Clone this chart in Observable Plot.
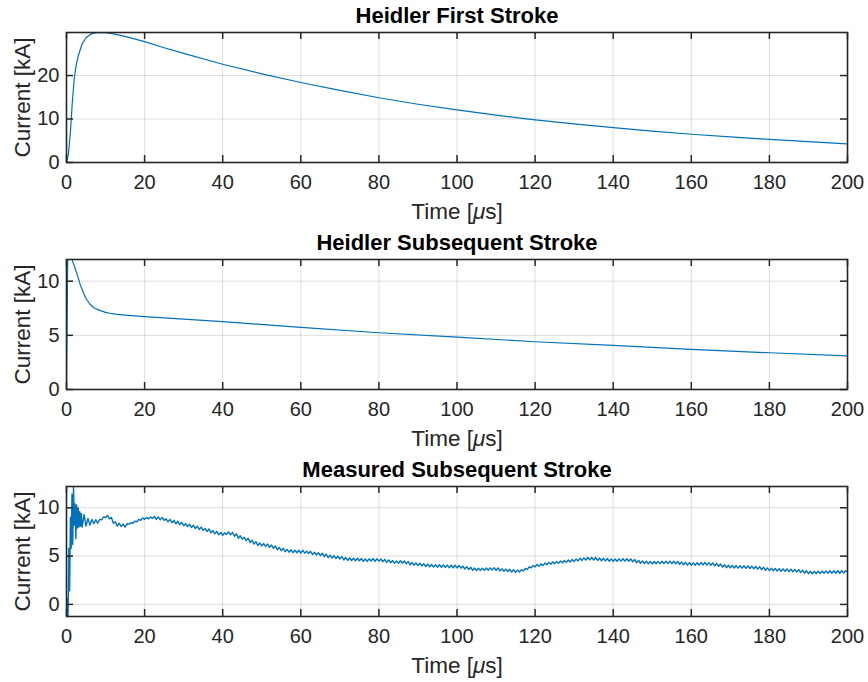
<!DOCTYPE html>
<html><head><meta charset="utf-8">
<script src="https://cdn.jsdelivr.net/npm/d3@7"></script>
<script src="https://cdn.jsdelivr.net/npm/@observablehq/plot@0.6"></script>
<style>body{margin:0;background:#fff} #chart svg{display:block}</style>
</head><body><div id="chart"></div>
<script>
// ---------- data ----------
const xTicks = [0, 20, 40, 60, 80, 100, 120, 140, 160, 180, 200];
const titles = ["Heidler First Stroke", "Heidler Subsequent Stroke", "Measured Subsequent Stroke"];
const xLabel = "Time [μs]";
const yLabel = "Current [kA]";

// Heidler first stroke (time in μs, current in kA)
const firstTime = [0, 0.5, 1, 1.5, 2, 2.5, 3, 4, 5, 6, 7, 8, 9, 10, 12, 15, 20, 25, 30, 40, 50, 60, 70, 80, 90, 100, 110, 120, 130, 140, 150, 160, 170, 180, 190, 200];
const firstCurrent = [0, 2, 7, 14, 19.5, 22.5, 24.5, 27.3, 28.7, 29.4, 29.75, 29.88, 29.9, 29.85, 29.6, 29.0, 27.8, 26.4, 25.1, 22.6, 20.4, 18.4, 16.6, 14.9, 13.4, 12.1, 10.9, 9.8, 8.9, 8.0, 7.2, 6.5, 5.9, 5.3, 4.8, 4.3];
const firstTicks = [0, 10, 20];
const firstDomain = [0, 29.9];

// Heidler subsequent stroke
const subTime = [0, 0.3, 0.6, 1.0, 1.5, 2, 2.7, 3.5, 4.3, 5, 6, 7, 8.5, 10, 11.1, 13, 15, 20, 40, 60, 80, 100, 120, 140, 160, 180, 200];
const subCurrent = [0, 12.1, 12.4, 12.3, 11.9, 11.4, 10.65, 9.7, 8.95, 8.4, 7.87, 7.55, 7.3, 7.12, 7.04, 6.93, 6.86, 6.72, 6.26, 5.74, 5.24, 4.84, 4.41, 4.07, 3.70, 3.39, 3.11];
const subTicks = [0, 5, 10];
const subDomain = [0, 12];

// Measured subsequent stroke: first 4 μs sampled every 0.2 μs, then every 0.5 μs
const measEarlyStep = 0.2;
const measEarly = [-1.2, 0.6, -1.25, 5.8, 1.4, 9.0, 5.8, 11.4, 6.2, 12.2, 8.2, 10.4, 6.8, 10.3, 7.9, 10.0, 8.0, 9.6, 8.1, 9.4];
const measLateStart = 4;
const measLateStep = 0.5;
const measLate = [
  8.0, 9.3, 8.1, 8.9, 8.2, 8.8, 8.35, 8.75, 8.4, 8.8,
  8.75, 9.05, 9.0, 9.2, 8.85, 9.0, 8.4, 8.55, 8.1, 8.4,
  8.05, 8.3, 8.0, 8.35, 8.3, 8.45, 8.4, 8.6, 8.55, 8.8,
  8.7, 8.95, 8.8, 9.0, 8.85, 9.05, 8.9, 9.1, 8.8, 9.05,
  8.75, 9.0, 8.7, 8.85, 8.55, 8.8, 8.45, 8.7, 8.35, 8.6,
  8.25, 8.5, 8.15, 8.35, 8.05, 8.3, 7.95, 8.2, 7.85, 8.1,
  7.75, 8.0, 7.65, 7.85, 7.55, 7.8, 7.4, 7.65, 7.3, 7.55,
  7.2, 7.45, 7.15, 7.4, 7.25, 7.5, 7.2, 7.45, 7.05, 7.3,
  6.85, 7.1, 6.75, 6.95, 6.6, 6.85, 6.4, 6.65, 6.25, 6.5,
  6.1, 6.35, 6.05, 6.3, 6.0, 6.25, 5.9, 6.15, 5.8, 6.05,
  5.65, 5.9, 5.55, 5.8, 5.45, 5.7, 5.4, 5.65, 5.35, 5.6,
  5.35, 5.6, 5.3, 5.6, 5.3, 5.5, 5.25, 5.5, 5.15, 5.4,
  5.1, 5.35, 5.05, 5.3, 4.95, 5.2, 4.85, 5.1, 4.8, 5.05,
  4.75, 5.0, 4.7, 4.95, 4.6, 4.85, 4.55, 4.8, 4.55, 4.78,
  4.52, 4.78, 4.5, 4.75, 4.45, 4.7, 4.45, 4.72, 4.48, 4.75,
  4.46, 4.72, 4.48, 4.7, 4.42, 4.66, 4.35, 4.6, 4.3, 4.55,
  4.25, 4.5, 4.26, 4.52, 4.28, 4.5, 4.2, 4.43, 4.1, 4.35,
  4.05, 4.3, 4.02, 4.27, 3.98, 4.2, 3.92, 4.17, 3.9, 4.13,
  3.86, 4.11, 3.85, 4.1, 3.84, 4.09, 3.82, 4.07, 3.8, 4.05,
  3.8, 4.05, 3.78, 4.03, 3.75, 3.97, 3.66, 3.91, 3.6, 3.85,
  3.52, 3.77, 3.5, 3.75, 3.5, 3.75, 3.52, 3.77, 3.53, 3.78,
  3.55, 3.8, 3.52, 3.77, 3.47, 3.7, 3.42, 3.65, 3.4, 3.63,
  3.35, 3.59, 3.32, 3.55, 3.35, 3.6, 3.46, 3.73, 3.62, 3.89,
  3.78, 4.03, 3.88, 4.13, 3.95, 4.2, 4.02, 4.27, 4.1, 4.35,
  4.15, 4.4, 4.2, 4.45, 4.25, 4.5, 4.3, 4.55, 4.35, 4.6,
  4.4, 4.65, 4.45, 4.7, 4.5, 4.77, 4.55, 4.81, 4.6, 4.85,
  4.62, 4.87, 4.6, 4.85, 4.55, 4.8, 4.52, 4.77, 4.5, 4.75,
  4.46, 4.71, 4.45, 4.7, 4.46, 4.71, 4.48, 4.73, 4.48, 4.73,
  4.47, 4.71, 4.4, 4.65, 4.3, 4.55, 4.26, 4.5, 4.23, 4.48,
  4.2, 4.45, 4.19, 4.44, 4.2, 4.45, 4.22, 4.47, 4.23, 4.48,
  4.23, 4.48, 4.22, 4.47, 4.2, 4.45, 4.15, 4.4, 4.1, 4.35,
  4.07, 4.32, 4.05, 4.3, 4.06, 4.31, 4.08, 4.33, 4.09, 4.34,
  4.07, 4.32, 4.05, 4.3, 4.0, 4.25, 3.93, 4.18, 3.85, 4.1,
  3.8, 4.05, 3.78, 4.03, 3.77, 4.02, 3.75, 4.0, 3.75, 4.0,
  3.73, 3.98, 3.71, 3.96, 3.69, 3.94, 3.65, 3.9, 3.59, 3.84,
  3.53, 3.78, 3.5, 3.75, 3.47, 3.72, 3.45, 3.7, 3.43, 3.68,
  3.42, 3.67, 3.4, 3.65, 3.38, 3.63, 3.35, 3.6, 3.3, 3.55,
  3.23, 3.48, 3.18, 3.43, 3.17, 3.42, 3.18, 3.43, 3.2, 3.45,
  3.22, 3.47, 3.23, 3.48, 3.23, 3.48, 3.23, 3.48, 3.23, 3.48,
  3.25, 3.48, 3.38
];
const measTicks = [0, 5, 10];
const measDomain = [-1.25, 12.2];

// ---------- build tables ----------
const firstData = firstTime.map((t, k) => ({t, i: firstCurrent[k]}));
const subData = subTime.map((t, k) => ({t, i: subCurrent[k]}));
const measData = [
  ...measEarly.map((v, k) => ({t: k * measEarlyStep, i: v})),
  ...measLate.map((v, k) => ({t: measLateStart + k * measLateStep, i: v}))
];

// ---------- drawing ----------
const ink = "#262626";
const blue = "#0072BD";
const W = 868, mL = 66, mR = 21, mT = 32, plotH = 130;
const plotW = W - mL - mR;
const tickLen = 7;

function panel(title, data, yDomain, yTicks, height, lineWidth) {
  return Plot.plot({
    width: W, height,
    marginLeft: mL, marginRight: mR, marginTop: mT, marginBottom: height - mT - plotH,
    x: {domain: [0, 200], axis: null},
    y: {domain: yDomain, axis: null},
    style: {fontFamily: "'Liberation Sans', Arial, Helvetica, sans-serif", color: ink, background: "#fff", overflow: "visible"},
    marks: [
      Plot.gridX(xTicks, {stroke: ink, strokeOpacity: 0.15, strokeWidth: 1}),
      Plot.gridY(yTicks, {stroke: ink, strokeOpacity: 0.15, strokeWidth: 1}),
      Plot.line(data, {x: "t", y: "i", stroke: blue, strokeWidth: lineWidth, clip: true}),
      Plot.ruleX(xTicks, {x: d => d, insetTop: plotH - tickLen, stroke: ink, strokeWidth: 1.5}),
      Plot.ruleX(xTicks, {x: d => d, insetBottom: plotH - tickLen, stroke: ink, strokeWidth: 1.5}),
      Plot.ruleY(yTicks, {y: d => d, insetRight: plotW - tickLen, stroke: ink, strokeWidth: 1.5}),
      Plot.ruleY(yTicks, {y: d => d, insetLeft: plotW - tickLen, stroke: ink, strokeWidth: 1.5}),
      Plot.frame({stroke: ink, strokeWidth: 1.6}),
      Plot.text(xTicks, {x: d => d, frameAnchor: "bottom", lineAnchor: "middle", dy: 20, text: d => String(d), fontSize: 20, fill: ink}),
      Plot.text(yTicks, {y: d => d, frameAnchor: "left", lineAnchor: "middle", dx: -7, textAnchor: "end", text: d => String(d), fontSize: 20, fill: ink}),
      Plot.text([xLabel], {frameAnchor: "bottom", lineAnchor: "middle", dy: 49, fontSize: 22.5, fill: ink}),
      Plot.text([yLabel], {frameAnchor: "left", lineAnchor: "middle", textAnchor: "middle", dx: -44, rotate: -90, fontSize: 22.5, fill: ink}),
      Plot.text([title], {frameAnchor: "top", lineAnchor: "middle", dy: -17, fontSize: 22, fontWeight: "bold", fill: "#000"})
    ]
  });
}

const chart = document.getElementById("chart");
chart.appendChild(panel(titles[0], firstData, firstDomain, firstTicks, 227, 1.2));
chart.appendChild(panel(titles[1], subData, subDomain, subTicks, 227, 1.2));
chart.appendChild(panel(titles[2], measData, measDomain, measTicks, 228, 1.4));

// italic μ as in the TeX-rendered label
const NS = "http://www.w3.org/2000/svg";
chart.querySelectorAll("text").forEach(el => {
  if (el.textContent === xLabel) {
    const parts = xLabel.split("μ");
    el.textContent = "";
    const a = document.createElementNS(NS, "tspan"); a.textContent = parts[0];
    const m = document.createElementNS(NS, "tspan"); m.textContent = "μ"; m.setAttribute("font-style", "italic");
    const b = document.createElementNS(NS, "tspan"); b.textContent = parts[1];
    el.append(a, m, b);
  }
});
</script>
</body></html>
